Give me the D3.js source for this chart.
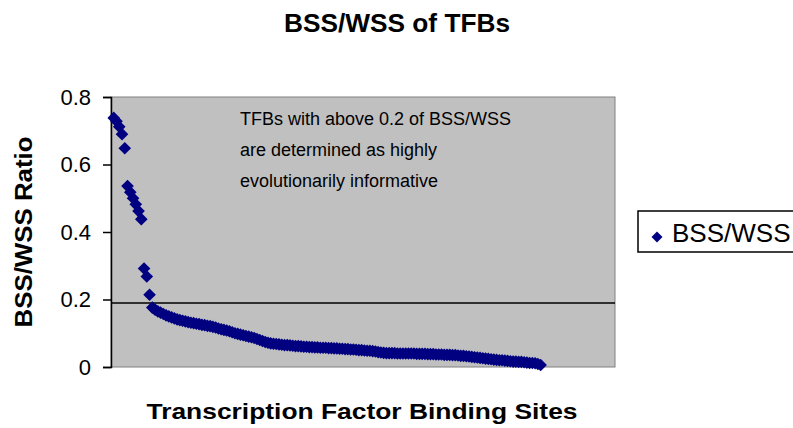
<!DOCTYPE html>
<html>
<head>
<meta charset="utf-8">
<script src="https://cdn.jsdelivr.net/npm/d3@7"></script>
<style>
  body { margin: 0; background: #fff; }
  svg { display: block; font-family: Arial, "Liberation Sans", sans-serif; }
</style>
</head>
<body>
<div id="chart"></div>
<script>
// values, sorted as in the original (site 1 .. site 156)
const ratios = [
  0.738, 0.728, 0.712, 0.690, 0.648, 0.536, 0.518, 0.500, 0.482, 0.462,
  0.438, 0.292, 0.268, 0.214, 0.176, 0.170, 0.165, 0.161, 0.157, 0.153,
  0.150, 0.147, 0.144, 0.141, 0.139, 0.137, 0.135, 0.133, 0.131, 0.130,
  0.128, 0.127, 0.125, 0.124, 0.122, 0.121, 0.119, 0.117, 0.114, 0.112,
  0.110, 0.108, 0.106, 0.103, 0.100, 0.098, 0.096, 0.094, 0.092, 0.090,
  0.088, 0.086, 0.083, 0.080, 0.077, 0.074, 0.072, 0.070, 0.069, 0.068,
  0.067, 0.066, 0.065, 0.065, 0.064, 0.063, 0.062, 0.062, 0.061, 0.060,
  0.060, 0.059, 0.059, 0.058, 0.058, 0.057, 0.057, 0.057, 0.056, 0.056,
  0.055, 0.055, 0.054, 0.054, 0.053, 0.053, 0.052, 0.052, 0.051, 0.050,
  0.050, 0.049, 0.048, 0.048, 0.047, 0.046, 0.044, 0.043, 0.042, 0.041,
  0.041, 0.041, 0.041, 0.040, 0.040, 0.040, 0.040, 0.040, 0.040, 0.040,
  0.039, 0.039, 0.039, 0.039, 0.038, 0.038, 0.038, 0.037, 0.037, 0.037,
  0.036, 0.036, 0.036, 0.035, 0.035, 0.034, 0.033, 0.033, 0.032, 0.031,
  0.030, 0.029, 0.028, 0.027, 0.026, 0.025, 0.024, 0.023, 0.022, 0.021,
  0.020, 0.020, 0.019, 0.018, 0.017, 0.016, 0.016, 0.015, 0.015, 0.014,
  0.013, 0.012, 0.012, 0.011, 0.009, 0.006
]
const siteCount = 183          // width of the category axis
const yTicks = [0, 0.2, 0.4, 0.6, 0.8]
const threshold = 0.19         // horizontal cut line as drawn
const seriesName = 'BSS/WSS'
const noteLines = [
  'TFBs with above 0.2 of BSS/WSS',
  'are determined as highly',
  'evolutionarily informative'
]

const W = 793, H = 428
const margin = ({top: 97, right: 178, bottom: 61, left: 111})
const width = W - margin.left - margin.right,
  height = H - margin.top - margin.bottom

const svg = d3.select('#chart').append('svg')
  .attr('width', W)
  .attr('height', H)

svg.append('text')
  .attr('x', 397).attr('y', 32)
  .attr('text-anchor', 'middle')
  .attr('font-size', 25).attr('font-weight', 'bold')
  .attr('textLength', 226).attr('lengthAdjust', 'spacingAndGlyphs')
  .text('BSS/WSS of TFBs')

const g = svg.append('g')
  .attr('transform', `translate(${margin.left},${margin.top})`)

const xScale = d3.scaleLinear()
  .domain([0, siteCount])
  .range([0, width])

const yScale = d3.scaleLinear()
  .domain([0, 0.8])
  .range([height, 0])

// plot area
g.append('rect')
  .attr('width', width).attr('height', height)
  .attr('fill', '#c0c0c0')
  .attr('stroke', '#808080').attr('stroke-width', 1)

// y axis
const yAxis = d3.axisLeft(yScale)
  .tickValues(yTicks)
  .tickSize(8)
  .tickPadding(12)
  .tickFormat(d => d === 0 ? '0' : d3.format('.1f')(d))

const yG = g.append('g').call(yAxis)
yG.select('.domain').attr('stroke', '#000').attr('stroke-width', 1.5)
yG.selectAll('.tick line').attr('stroke', '#000').attr('stroke-width', 1.5)
yG.selectAll('.tick text')
  .attr('font-size', 22)
  .attr('font-family', 'Arial, "Liberation Sans", sans-serif')
  .attr('fill', '#000')

// cut line
g.append('line')
  .attr('x1', 0).attr('x2', width)
  .attr('y1', yScale(threshold)).attr('y2', yScale(threshold))
  .attr('stroke', '#000').attr('stroke-width', 1.5)

// markers
const diamond = d3.symbol().type(d3.symbolSquare).size(80)
g.append('g').selectAll('path')
  .data(ratios)
  .join('path')
  .attr('d', diamond)
  .attr('transform', (d, i) => `translate(${xScale(i + 1)},${yScale(d)}) rotate(45)`)
  .attr('fill', '#000080')

// note
g.append('g').selectAll('text')
  .data(noteLines)
  .join('text')
  .attr('x', 240 - margin.left)
  .attr('y', (d, i) => 125 - margin.top + i * 31)
  .attr('font-size', 18)
  .attr('fill', '#000')
  .text(d => d)

// axis titles
svg.append('text')
  .attr('transform', 'translate(32,232) rotate(-90)')
  .attr('text-anchor', 'middle')
  .attr('font-size', 23).attr('font-weight', 'bold')
  .attr('textLength', 191).attr('lengthAdjust', 'spacingAndGlyphs')
  .text('BSS/WSS Ratio')

svg.append('text')
  .attr('x', 362).attr('y', 419)
  .attr('text-anchor', 'middle')
  .attr('font-size', 22).attr('font-weight', 'bold')
  .attr('textLength', 431).attr('lengthAdjust', 'spacingAndGlyphs')
  .text('Transcription Factor Binding Sites')

// legend
const legend = svg.append('g').attr('transform', 'translate(638,211)')
legend.append('rect')
  .attr('width', 170).attr('height', 41)
  .attr('fill', '#fff')
  .attr('stroke', '#000').attr('stroke-width', 1.5)
legend.append('path')
  .attr('d', d3.symbol().type(d3.symbolSquare).size(60))
  .attr('transform', 'translate(19,26) rotate(45)')
  .attr('fill', '#000080')
legend.append('text')
  .attr('x', 34).attr('y', 31)
  .attr('font-size', 26)
  .attr('fill', '#000')
  .text(seriesName)
</script>
</body>
</html>
